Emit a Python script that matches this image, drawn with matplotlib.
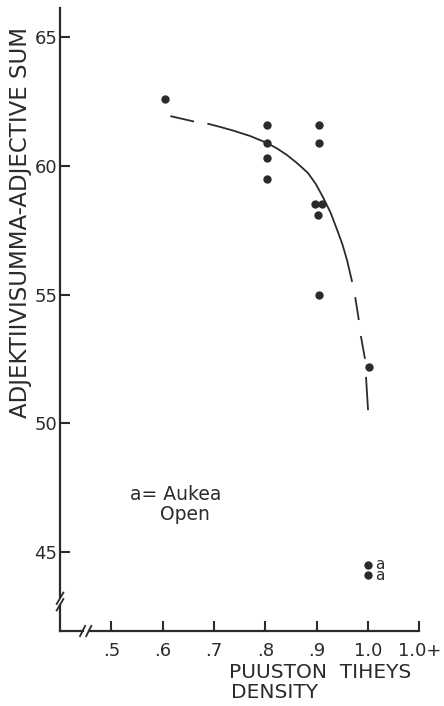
import matplotlib
matplotlib.use("Agg")
import matplotlib.pyplot as plt

# Points (x = tree density, y = adjective sum)
density = [0.605, 0.803, 0.803, 0.803, 0.803, 0.905, 0.905, 0.897, 0.910, 0.903, 0.905, 1.002]
adj_sum = [62.6, 61.6, 60.9, 60.3, 59.5, 61.6, 60.9, 58.5, 58.5, 58.1, 55.0, 52.2]

# Open sites ("a")
open_density = [1.0, 1.0]
open_sum = [44.5, 44.1]

# Hand drawn trend curve, read piece by piece (solid part + dashes)
curve_dash1_x = [0.615, 0.661]
curve_dash1_y = [61.93, 61.72]
curve_solid_x = [0.687, 0.712, 0.737, 0.770, 0.804, 0.823, 0.842, 0.862, 0.883,
                 0.898, 0.912, 0.927, 0.940, 0.950, 0.959, 0.969]
curve_solid_y = [61.64, 61.51, 61.37, 61.16, 60.88, 60.67, 60.42, 60.10, 59.72,
                 59.30, 58.79, 58.18, 57.50, 56.95, 56.34, 55.49]
curve_dash2_x = [0.975, 0.982]
curve_dash2_y = [54.90, 54.01]
curve_dash3_x = [0.986, 0.994]
curve_dash3_y = [53.39, 52.50]
curve_dash4_x = [0.996, 1.000]
curve_dash4_y = [51.80, 50.51]

x_ticks = [0.5, 0.6, 0.7, 0.8, 0.9, 1.0, 1.1]
x_tick_labels = [".5", ".6", ".7", ".8", ".9", "1.0", "1.0+"]
y_ticks = [45, 50, 55, 60, 65]

INK = "#2b2b2b"
W, H = 444, 706

fig = plt.figure(figsize=(W / 100, H / 100), dpi=100)
ax = fig.add_axes([60 / W, 75 / H, 359.4 / W, 623 / H])
ax.set_xlim(0.4, 1.1)
ax.set_ylim(41.93, 66.13)
for s in ax.spines.values():
    s.set_visible(False)

# axes drawn by hand so the breaks can be shown
lw_axis = 1.6
ax.plot([0.4, 0.4], [66.13, 43.25], color=INK, lw=lw_axis, clip_on=False)
ax.plot([0.4, 0.4], [42.95, 41.93], color=INK, lw=lw_axis, clip_on=False)
for yb in (43.2, 42.95):
    ax.plot([0.3935, 0.4065], [yb - 0.22, yb + 0.22], color=INK, lw=1.3, clip_on=False)
ax.plot([0.4, 0.444], [41.93, 41.93], color=INK, lw=lw_axis, clip_on=False)
ax.plot([0.457, 1.1], [41.93, 41.93], color=INK, lw=lw_axis, clip_on=False)
for xb in (0.444, 0.456):
    ax.plot([xb - 0.005, xb + 0.005], [41.93 - 0.2, 41.93 + 0.2], color=INK, lw=1.3, clip_on=False)

ax.set_xticks(x_ticks)
ax.set_xticklabels(x_tick_labels)
ax.set_yticks(y_ticks)
ax.tick_params(axis="both", direction="in", length=7, width=1.5, color=INK,
               labelsize=13, labelcolor=INK)
ax.tick_params(axis="x", pad=8)
ax.tick_params(axis="y", pad=2)

# trend curve
for cx, cy in [(curve_dash1_x, curve_dash1_y), (curve_solid_x, curve_solid_y),
               (curve_dash2_x, curve_dash2_y), (curve_dash3_x, curve_dash3_y),
               (curve_dash4_x, curve_dash4_y)]:
    ax.plot(cx, cy, color=INK, lw=1.3, solid_capstyle="butt", solid_joinstyle="round")

# data points
ax.plot(density, adj_sum, "o", color=INK, ms=6, mec="none", clip_on=False)
ax.plot(open_density, open_sum, "o", color=INK, ms=6, mec="none")
ax.annotate("a\na", (open_density[0], sum(open_sum) / 2), xytext=(5, 0),
            textcoords="offset points", ha="left", va="center",
            fontsize=11, linespacing=0.72, color=INK)

# texts
fig.text(21 / W, 1 - 222 / H, "ADJEKTIIVISUMMA-ADJECTIVE SUM", rotation=90,
         ha="center", va="center", fontsize=16.5, color=INK)
fig.text(229 / W, 1 - 672 / H, "PUUSTON  TIHEYS", ha="left", va="center",
         fontsize=14.5, color=INK)
fig.text(231 / W, 1 - 692 / H, "DENSITY", ha="left", va="center",
         fontsize=14.5, color=INK)
fig.text(130 / W, 1 - 495 / H, "a= Aukea", ha="left", va="center",
         fontsize=13.5, color=INK)
fig.text(160 / W, 1 - 515 / H, "Open", ha="left", va="center",
         fontsize=13.5, color=INK)

fig.savefig("out.png", dpi=100)
